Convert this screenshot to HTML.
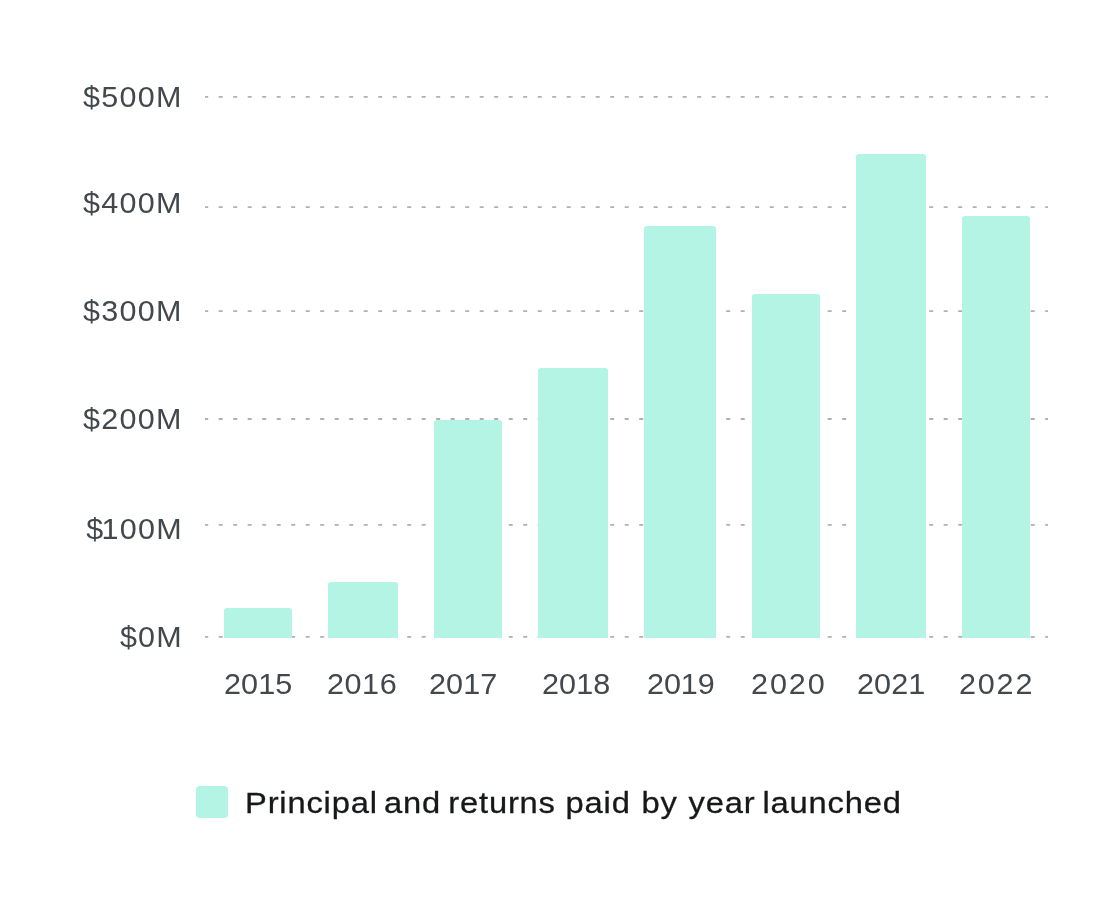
<!DOCTYPE html>
<html lang="en">
<head>
<meta charset="utf-8">
<title>Principal and returns paid by year launched</title>
<style>
  html,body{margin:0;padding:0;background:#fff;}
  body{width:1120px;height:920px;position:relative;overflow:hidden;font-family:"Liberation Sans",Arial,sans-serif;}
  .chart{position:absolute;left:0;top:0;width:1120px;height:920px;}
  .gridsvg{position:absolute;left:0;top:0;}
  .bar{position:absolute;background:#b3f4e4;border-radius:3px 3px 0 0;}
  .yl{position:absolute;right:937.3px;font-size:29px;line-height:30px;color:#43484c;white-space:nowrap;letter-spacing:1.2px;text-align:right;transform:scaleX(1.052);transform-origin:right center;}
  .xl{position:absolute;font-size:29px;line-height:30px;color:#43484c;white-space:nowrap;letter-spacing:0.1px;top:668.5px;transform:scaleX(1.055);transform-origin:left center;}
  .sw{position:absolute;left:196px;top:786px;width:32px;height:32px;border-radius:4px;background:#b3f4e4;}
  .lg{position:absolute;left:245px;top:786px;font-size:30px;line-height:34px;color:#16181a;white-space:nowrap;letter-spacing:0.75px;-webkit-text-stroke:0.3px #16181a;transform:scaleX(1.09);transform-origin:left center;}
</style>
</head>
<body>
<div class="chart">
  <svg class="gridsvg" width="1120" height="920" viewBox="0 0 1120 920" aria-hidden="true">
    <g stroke="#b0b0b0" stroke-width="1.8" stroke-dasharray="4 10.5" stroke-dashoffset="0.8" fill="none">
      <line x1="205" x2="1048" y1="96.8" y2="96.8"/>
      <line x1="205" x2="1048" y1="207.1" y2="207.1"/>
      <line x1="205" x2="1048" y1="311.2" y2="311.2"/>
      <line x1="205" x2="1048" y1="419" y2="419"/>
      <line x1="205" x2="1048" y1="524.9" y2="524.9"/>
      <line x1="205" x2="1048" y1="636.9" y2="636.9"/>
    </g>
  </svg>

  <div class="bar" style="left:224px;width:68px;top:608px;height:30px"></div>
  <div class="bar" style="left:328px;width:70px;top:582px;height:56px"></div>
  <div class="bar" style="left:434px;width:68px;top:420px;height:218px"></div>
  <div class="bar" style="left:538px;width:70px;top:368px;height:270px"></div>
  <div class="bar" style="left:644px;width:72px;top:226px;height:412px"></div>
  <div class="bar" style="left:752px;width:68px;top:294px;height:344px"></div>
  <div class="bar" style="left:856px;width:70px;top:154px;height:484px"></div>
  <div class="bar" style="left:962px;width:68px;top:216px;height:422px"></div>

  <div class="yl" style="top:82.4px">$500M</div>
  <div class="yl" style="top:188.4px">$400M</div>
  <div class="yl" style="top:296.4px">$300M</div>
  <div class="yl" style="top:404.4px">$200M</div>
  <div class="yl" style="top:514.4px"><span style="margin-right:-2.8px">$</span>100M</div>
  <div class="yl" style="top:622.4px">$0M</div>

  <div class="xl" style="left:224px">2015</div>
  <div class="xl" style="left:327px;letter-spacing:0.5px">2016</div>
  <div class="xl" style="left:429px">2017</div>
  <div class="xl" style="left:542px">2018</div>
  <div class="xl" style="left:646.8px;letter-spacing:-0.1px">2019</div>
  <div class="xl" style="left:751px;letter-spacing:1.8px">2020</div>
  <div class="xl" style="left:857px">2021</div>
  <div class="xl" style="left:959px;letter-spacing:1.7px">2022</div>

  <div class="sw"></div>
  <div class="lg"><span>Principal</span> <span style="margin-left:-3.45px">and</span> <span style="margin-left:-2.4px">returns</span> <span style="margin-left:-0.1px">paid</span> <span style="margin-left:0.85px">by</span> <span style="margin-left:0.8px">year</span> <span style="margin-left:-2.5px">launched</span></div>
</div>
</body>
</html>
